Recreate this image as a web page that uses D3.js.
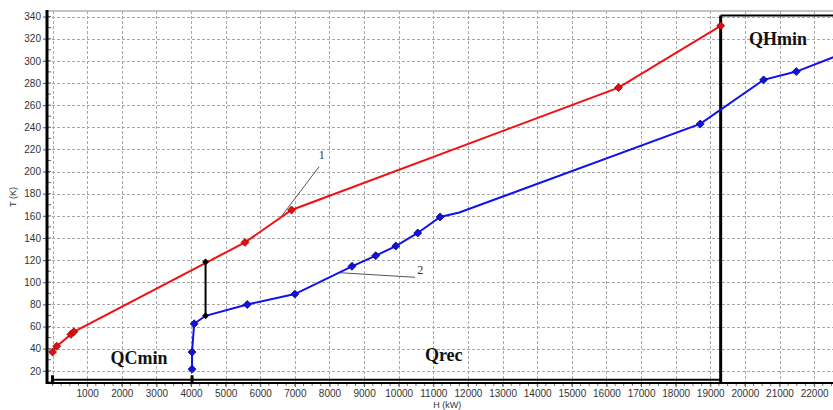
<!DOCTYPE html>
<html>
<head>
<meta charset="utf-8">
<script src="https://cdn.jsdelivr.net/npm/d3@7"></script>
<style>
  body { margin: 0; background: #fff; }
  svg { display: block; }
</style>
</head>
<body>
<div id="chart"></div>
<script>
// hot composite curve (red), [H kW, T K]
const hotH = [0, 120, 530, 615, 5560, 6905, 16350, 19300];
const hotT = [37, 42.3, 52.9, 55.3, 136, 165.3, 275.8, 331.6];
const hotMark = [1, 1, 1, 1, 1, 1, 1, 1];

// cold composite curve (blue)
const coldH = [4030, 4030, 4090, 4420, 5625, 7000, 8650, 9335, 9915, 10550, 11195, 11750, 18710, 20540, 21485, 22700];
const coldT = [21.5, 36.9, 62.5, 69.7, 79.9, 89.3, 114.4, 124, 132.7, 144.5, 159, 163, 243, 282.8, 290.3, 305];
const coldMark = [1, 1, 1, 0, 1, 1, 1, 1, 1, 1, 1, 0, 1, 1, 1, 0];

// pinch segment (black)
const pinchH = [4420, 4420];
const pinchT = [69.7, 118.3];

// energy regions along the H axis
const regionNames = ["QCmin", "Qrec", "QHmin"];
const regionStart = [0, 4030, 19300];
const regionEnd = [4030, 19300, 22700];
const regionLabelH = [2500, 11300, 20960];
const regionLabelT = [26.5, 29, 314];

// curve number callouts: label position and leader line
const calloutText = ["1", "2"];
const calloutH = [7780, 10620];
const calloutT = [211, 107.5];
const leaderH = [[7700, 6570], [10470, 8300]];
const leaderT = [[204.4, 157.8], [104.5, 108.6]];

const xTicks = d3.range(1000, 23000, 1000);
const yTicks = d3.range(20, 341, 20);

const W = 833, H = 410;
const svg = d3.select("#chart").append("svg")
    .attr("width", W).attr("height", H)
    .style("font-family", "'Liberation Sans', Arial, sans-serif");

const x = d3.scaleLinear().domain([-160, 22545]).range([47, 833]);
const y = d3.scaleLinear().domain([9, 345]).range([383, 11]);

// plot frame top border
svg.append("line")
    .attr("x1", x.range()[0]).attr("x2", W)
    .attr("y1", y(345)).attr("y2", y(345))
    .attr("stroke", "#888").attr("stroke-width", 1);

// grid
const grid = svg.append("g").attr("stroke", "#a8a8a8").attr("stroke-dasharray", "3,2").attr("stroke-width", 1);
grid.selectAll(".gx").data([0].concat(xTicks)).join("line")
    .attr("x1", d => Math.round(x(d)) + 0.5).attr("x2", d => Math.round(x(d)) + 0.5)
    .attr("y1", y(345)).attr("y2", y(9));
grid.selectAll(".gy").data(yTicks).join("line")
    .attr("x1", x(-160)).attr("x2", W)
    .attr("y1", d => Math.round(y(d)) + 0.5).attr("y2", d => Math.round(y(d)) + 0.5);

// y axis
const yAxis = svg.append("g").attr("transform", `translate(${x(-160)},0)`)
    .call(d3.axisLeft(y).tickValues(yTicks).tickSize(4).tickPadding(2));
yAxis.select(".domain").remove();
yAxis.selectAll("text").attr("font-size", 10).attr("fill", "#333");
yAxis.selectAll(".tick line").attr("stroke", "#555");
svg.append("g").selectAll("line").data(d3.range(10, 345, 10)).join("line")
    .attr("x1", x(-160)).attr("x2", x(-160) + 4)
    .attr("y1", d => y(d)).attr("y2", d => y(d))
    .attr("stroke", "#666");
svg.append("line")
    .attr("x1", x(-160)).attr("x2", x(-160))
    .attr("y1", y(345) - 1).attr("y2", y(9) + 1)
    .attr("stroke", "#000").attr("stroke-width", 3);

// x axis
const xAxis = svg.append("g").attr("transform", `translate(0,${y(9)})`)
    .call(d3.axisBottom(x).tickValues(xTicks).tickSize(4).tickPadding(3).tickFormat(d3.format("d")));
xAxis.select(".domain").remove();
xAxis.selectAll("text").attr("font-size", 10).attr("fill", "#333");
xAxis.selectAll(".tick line").attr("stroke", "#555");
svg.append("g").selectAll("line").data(d3.range(0, 22600, 250)).join("line")
    .attr("x1", d => x(d)).attr("x2", d => x(d))
    .attr("y1", y(9)).attr("y2", y(9) + 3)
    .attr("stroke", "#777");
svg.append("line")
    .attr("x1", x(-160)).attr("x2", W)
    .attr("y1", y(9)).attr("y2", y(9))
    .attr("stroke", "#000").attr("stroke-width", 2);

// axis titles
svg.append("text")
    .attr("transform", `translate(16,${y(177)}) rotate(-90)`)
    .attr("text-anchor", "middle").attr("font-size", 9).attr("fill", "#333")
    .text("T (K)");
svg.append("text")
    .attr("x", x(11400)).attr("y", 408)
    .attr("text-anchor", "middle").attr("font-size", 9).attr("fill", "#333")
    .text("H (kW)");

// region brackets
const br = svg.append("g").attr("stroke", "#000");
br.append("line")
    .attr("x1", x(regionStart[0])).attr("x2", x(regionEnd[1]))
    .attr("y1", y(12)).attr("y2", y(12)).attr("stroke-width", 2);
br.selectAll(".end").data([regionStart[0], regionStart[1]]).join("line")
    .attr("x1", d => x(d)).attr("x2", d => x(d))
    .attr("y1", y(16)).attr("y2", y(8)).attr("stroke-width", 3);
br.append("line")
    .attr("x1", x(regionStart[2])).attr("x2", x(regionStart[2]))
    .attr("y1", y(341)).attr("y2", y(9))
    .attr("stroke-width", 3);
br.append("line")
    .attr("x1", x(regionStart[2])).attr("x2", W)
    .attr("y1", y(341)).attr("y2", y(341))
    .attr("stroke-width", 2);

svg.append("g").selectAll("text").data(regionNames).join("text")
    .attr("x", (d, i) => x(regionLabelH[i]))
    .attr("y", (d, i) => y(regionLabelT[i]))
    .attr("text-anchor", "middle")
    .attr("font-family", "'Liberation Serif', 'Times New Roman', serif")
    .attr("font-weight", "bold").attr("font-size", 18).attr("fill", "#111")
    .text(d => d);

// callouts
const co = svg.append("g");
co.selectAll("line").data(calloutText).join("line")
    .attr("x1", (d, i) => x(leaderH[i][0])).attr("y1", (d, i) => y(leaderT[i][0]))
    .attr("x2", (d, i) => x(leaderH[i][1])).attr("y2", (d, i) => y(leaderT[i][1]))
    .attr("stroke", "#555").attr("stroke-width", 1);
co.selectAll("text").data(calloutText).join("text")
    .attr("x", (d, i) => x(calloutH[i])).attr("y", (d, i) => y(calloutT[i]))
    .attr("text-anchor", "middle")
    .attr("font-family", "'Liberation Serif', 'Times New Roman', serif")
    .attr("font-size", 12).attr("fill", "#333")
    .text(d => d);

// curves
const line = d3.line().x(d => x(d[0])).y(d => y(d[1]));
const hot = hotH.map((h, i) => [h, hotT[i], hotMark[i]]);
const cold = coldH.map((h, i) => [h, coldT[i], coldMark[i]]);
const pinch = pinchH.map((h, i) => [h, pinchT[i]]);

const clip = svg.append("clipPath").attr("id", "plot")
    .append("rect").attr("x", x(-160)).attr("y", y(345)).attr("width", W).attr("height", y(9) - y(345));
const plot = svg.append("g").attr("clip-path", "url(#plot)");

plot.append("path").datum(hot).attr("d", line)
    .attr("fill", "none").attr("stroke", "#f21010").attr("stroke-width", 2);
plot.append("path").datum(cold).attr("d", line)
    .attr("fill", "none").attr("stroke", "#1010f0").attr("stroke-width", 2);
plot.append("path").datum(pinch).attr("d", line)
    .attr("fill", "none").attr("stroke", "#000").attr("stroke-width", 2);

const diamond = d3.symbol().type(d3.symbolDiamond2).size(40);
plot.selectAll(".hm").data(hot.filter(d => d[2])).join("path")
    .attr("transform", d => `translate(${x(d[0])},${y(d[1])})`)
    .attr("d", diamond).attr("fill", "#e01010").attr("stroke", "#8a0000").attr("stroke-width", 0.8);
plot.selectAll(".cm").data(cold.filter(d => d[2])).join("path")
    .attr("transform", d => `translate(${x(d[0])},${y(d[1])})`)
    .attr("d", diamond).attr("fill", "#1010e0").attr("stroke", "#000080").attr("stroke-width", 0.8);
plot.selectAll(".pm").data(pinch).join("path")
    .attr("transform", d => `translate(${x(d[0])},${y(d[1])})`)
    .attr("d", d3.symbol().type(d3.symbolDiamond2).size(30)).attr("fill", "#000");
</script>
</body>
</html>
